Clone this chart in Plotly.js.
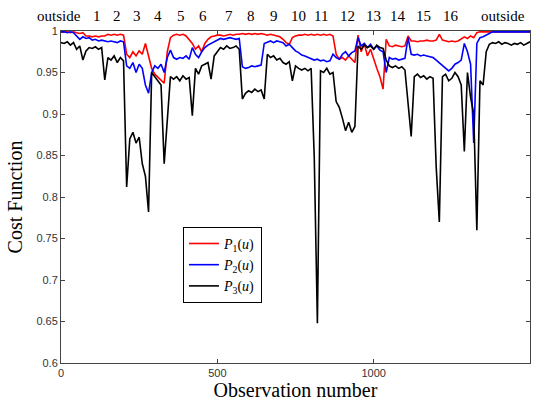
<!DOCTYPE html>
<html>
<head>
<meta charset="utf-8">
<script src="https://cdn.plot.ly/plotly-3.0.1.min.js"></script>
<style>html,body{margin:0;padding:0;background:#fff;}#chart{width:542px;height:405px;}</style>
</head>
<body>
<div id="chart"></div>
<script>
// Observation numbers (every 10 observations)
const obs = [];
for (let i = 0; i <= 1500; i += 10) obs.push(i);

// P1(u) - red
const p1 = [
0.999,0.999,0.999,0.998,0.999,0.998,0.997,0.998,0.994,0.994,
0.993,0.994,0.993,0.994,0.994,0.996,0.995,0.996,0.995,0.996,
0.995,0.972,0.968,0.975,0.970,0.976,0.972,0.985,0.968,0.955,
0.948,0.944,0.940,0.937,0.975,0.992,0.995,0.996,0.995,0.996,
0.994,0.990,0.985,0.978,0.982,0.975,0.985,0.990,0.993,0.994,
0.995,0.995,0.994,0.995,0.996,0.995,0.996,0.996,0.997,0.996,
0.997,0.996,0.997,0.996,0.997,0.996,0.995,0.996,0.995,0.994,
0.993,0.990,0.986,0.984,0.992,0.994,0.995,0.995,0.996,0.995,
0.996,0.995,0.996,0.995,0.996,0.995,0.996,0.994,0.972,0.966,
0.968,0.965,0.970,0.966,0.962,0.995,0.975,0.985,0.970,0.978,
0.965,0.955,0.945,0.930,0.990,0.982,0.981,0.983,0.982,0.981,
0.982,0.994,0.988,0.988,0.987,0.988,0.988,0.989,0.988,0.988,
0.989,0.996,0.989,0.988,0.987,0.988,0.987,0.988,0.990,0.993,
0.991,0.994,0.992,0.998,0.999,0.999,0.999,0.999,0.999,0.999,
0.999,0.999,0.999,0.999,0.999,0.999,0.999,0.999,0.999,0.999,
0.999];

// P2(u) - blue
const p2 = [
0.999,0.999,0.998,0.999,0.998,0.994,0.990,0.993,0.991,0.992,
0.989,0.990,0.988,0.989,0.988,0.987,0.988,0.987,0.986,0.988,
0.987,0.958,0.955,0.962,0.950,0.960,0.955,0.935,0.925,0.950,
0.958,0.955,0.960,0.950,0.968,0.977,0.968,0.966,0.968,0.967,
0.970,0.966,0.980,0.972,0.968,0.975,0.980,0.983,0.985,0.988,
0.990,0.991,0.990,0.991,0.992,0.991,0.990,0.991,0.957,0.955,
0.956,0.958,0.957,0.958,0.959,0.985,0.987,0.988,0.986,0.988,
0.987,0.986,0.982,0.984,0.980,0.976,0.974,0.971,0.970,0.968,
0.966,0.965,0.966,0.964,0.965,0.963,0.964,0.972,0.968,0.966,
0.972,0.975,0.970,0.974,0.976,0.992,0.982,0.985,0.980,0.984,
0.978,0.982,0.977,0.975,0.950,0.968,0.966,0.967,0.965,0.966,
0.967,0.992,0.972,0.971,0.972,0.970,0.971,0.970,0.969,0.968,
0.965,0.962,0.958,0.955,0.952,0.955,0.960,0.962,0.965,0.985,
0.975,0.960,0.865,0.985,0.992,0.993,0.995,0.998,0.999,0.999,
0.999,0.999,0.999,0.999,0.999,0.999,0.999,0.999,0.999,0.999,
0.999];

// P3(u) - black
const p3 = [
0.986,0.985,0.987,0.983,0.986,0.978,0.982,0.965,0.976,0.980,
0.979,0.981,0.978,0.980,0.941,0.968,0.965,0.970,0.962,0.968,
0.964,0.812,0.870,0.878,0.865,0.872,0.840,0.825,0.782,0.950,
0.945,0.940,0.935,0.840,0.890,0.945,0.942,0.945,0.940,0.946,
0.942,0.944,0.898,0.955,0.948,0.958,0.960,0.962,0.942,0.970,
0.975,0.980,0.978,0.982,0.979,0.980,0.982,0.978,0.918,0.925,
0.928,0.926,0.930,0.927,0.929,0.918,0.972,0.968,0.970,0.965,
0.967,0.962,0.960,0.963,0.940,0.958,0.955,0.953,0.955,0.952,
0.955,0.848,0.648,0.952,0.950,0.955,0.948,0.950,0.915,0.908,
0.895,0.880,0.890,0.878,0.885,0.982,0.978,0.983,0.980,0.982,
0.978,0.983,0.980,0.979,0.965,0.958,0.956,0.958,0.955,0.957,
0.953,0.915,0.873,0.945,0.948,0.944,0.946,0.942,0.945,0.943,
0.836,0.770,0.945,0.948,0.940,0.943,0.950,0.945,0.935,0.855,
0.950,0.920,0.900,0.760,0.940,0.935,0.975,0.984,0.986,0.985,
0.987,0.984,0.986,0.985,0.983,0.985,0.984,0.986,0.983,0.985,
0.987];

const seriesNames = ['<i>P</i><sub>1</sub>(<i>u</i>)', '<i>P</i><sub>2</sub>(<i>u</i>)', '<i>P</i><sub>3</sub>(<i>u</i>)'];
const seriesColors = ['#ff0000', '#0000ff', '#000000'];

// Zone labels along the top
const zoneLabels = ['outside','1','2','3','4','5','6','7','8','9','10','11','12','13','14','15','16','outside'];
const zonePos = [-6,115,179,243,310,384,454,537,608,681,758,832,915,1001,1078,1158,1247,1413];

const yTicks = [0.6,0.65,0.7,0.75,0.8,0.85,0.9,0.95,1];
const yTickText = ['0.6','0.65','0.7','0.75','0.8','0.85','0.9','0.95','1'];
const xTicks = [0,500,1000,1500];
const xMax = 1500;

const data = [p1, p2, p3].map((ys, i) => ({
  x: obs, y: ys, type: 'scatter', mode: 'lines',
  name: seriesNames[i],
  line: {color: seriesColors[i], width: 1.6}
}));

const annotations = zoneLabels.map((t, i) => ({
  text: t, x: zonePos[i] / xMax, xref: 'paper', y: 1.045, yref: 'paper',
  xanchor: 'center', yanchor: 'middle', showarrow: false,
  font: {family: 'Liberation Serif, serif', size: 15, color: '#000'}
}));

const axisCommon = {
  showline: true, linecolor: '#444', linewidth: 1, mirror: 'ticks',
  ticks: 'inside', ticklen: 4, tickcolor: '#444', showgrid: false, zeroline: false,
  tickfont: {family: 'Liberation Sans, Arial, sans-serif', size: 11, color: '#333'}
};

const layout = {
  width: 542, height: 405,
  margin: {l: 61, r: 12, t: 31, b: 42},
  paper_bgcolor: '#fff', plot_bgcolor: '#fff',
  xaxis: Object.assign({}, axisCommon, {
    range: [0, xMax], tickvals: xTicks,
    title: {text: 'Observation number', standoff: 2, font: {family: 'Liberation Serif, serif', size: 20, color: '#000'}}
  }),
  yaxis: Object.assign({}, axisCommon, {
    range: [0.6, 1], tickvals: yTicks, ticktext: yTickText,
    title: {text: 'Cost Function', standoff: 8, font: {family: 'Liberation Serif, serif', size: 20, color: '#000'}}
  }),
  showlegend: true,
  legend: {
    x: 0.26, y: 0.41, xanchor: 'left', yanchor: 'top',
    bgcolor: '#fff', bordercolor: '#000', borderwidth: 1,
    font: {family: 'Liberation Serif, serif', size: 14, color: '#000'},
    tracegroupgap: 0
  },
  annotations: annotations
};

Plotly.newPlot('chart', data, layout, {displayModeBar: false, staticPlot: true});
</script>
</body>
</html>
